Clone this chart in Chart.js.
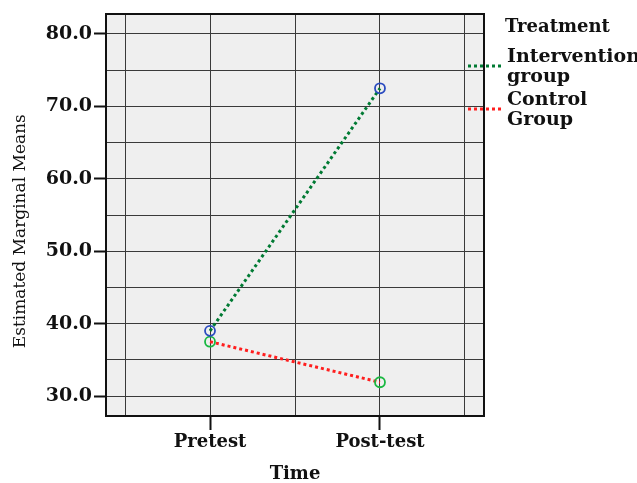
<!DOCTYPE html>
<html>
<head>
<meta charset="utf-8">
<script src="https://cdn.jsdelivr.net/npm/chart.js@4"></script>
<style>
  html, body { margin: 0; padding: 0; background: #fff; }
  canvas { display: block; }
</style>
</head>
<body>
<canvas id="profileChart" width="637" height="483"></canvas>
<script>
// values
const timeLabels = ['Pretest', 'Post-test'];
const groupNames = [['Intervention', 'group'], ['Control', 'Group']];
const interventionMeans = [39.0, 72.5];
const controlMeans = [37.5, 31.9];
const yTickValues = [30, 35, 40, 45, 50, 55, 60, 65, 70, 75, 80];
const xTickValues = [0.5, 1, 1.5, 2, 2.5];

const serif = "'DejaVu Serif', 'Liberation Serif', serif";

// plot background + full frame (SPSS style box)
const frame = {
    id: 'frame',
    beforeDraw(chart) {
        const a = chart.chartArea;
        const c = chart.ctx;
        c.save();
        c.fillStyle = '#efefef';
        c.fillRect(a.left, a.top, a.right - a.left, a.bottom - a.top);
        c.restore();
    },
    afterDatasetsDraw(chart) {
        const a = chart.chartArea;
        const c = chart.ctx;
        c.save();
        c.strokeStyle = '#111';
        c.lineWidth = 2;
        c.strokeRect(a.left, a.top, a.right - a.left, a.bottom - a.top);
        c.restore();
    }
};

// legend on the right, title + dotted swatches + wrapped names
const sideLegend = {
    id: 'sideLegend',
    afterDraw(chart) {
        const c = chart.ctx;
        c.save();
        c.fillStyle = '#111';
        c.textBaseline = 'middle';
        c.font = '600 18px ' + serif;
        c.fillText('Treatment', 505, 27);
        const rows = [[57, 77, 66], [100, 120, 109]];
        chart.data.datasets.forEach((ds, i) => {
            const r = rows[i];
            c.font = '600 19px ' + serif;
            c.fillStyle = '#111';
            c.fillText(groupNames[i][0], 507, r[0]);
            c.fillText(groupNames[i][1], 507, r[1]);
            c.strokeStyle = ds.borderColor;
            c.lineWidth = 3;
            c.setLineDash([3, 3]);
            c.beginPath();
            c.moveTo(468, r[2]);
            c.lineTo(502, r[2]);
            c.stroke();
        });
        c.restore();
    }
};

function initChart() {
    const ctx = document.getElementById('profileChart');

    new Chart(ctx, {
        type: 'scatter',
        data: {
            datasets: [{
                label: groupNames[0].join(' '),
                data: interventionMeans.map((v, i) => ({ x: i + 1, y: v })),
                showLine: true,
                borderColor: '#007a33',
                borderWidth: 3,
                borderDash: [3, 3],
                pointStyle: 'circle',
                pointRadius: 5,
                pointBorderWidth: 1.8,
                pointBorderColor: '#2a4bc0',
                pointBackgroundColor: 'rgba(0,0,0,0)'
            }, {
                label: groupNames[1].join(' '),
                data: controlMeans.map((v, i) => ({ x: i + 1, y: v })),
                showLine: true,
                borderColor: '#ff1e1e',
                borderWidth: 3,
                borderDash: [3, 3],
                pointStyle: 'circle',
                pointRadius: 5,
                pointBorderWidth: 1.8,
                pointBorderColor: '#18b840',
                pointBackgroundColor: 'rgba(0,0,0,0)'
            }]
        },
        options: {
            responsive: false,
            animation: false,
            devicePixelRatio: 1,
            layout: { padding: { left: 0, top: 14, right: 153, bottom: 0 } },
            plugins: {
                legend: { display: false },
                tooltip: { enabled: false }
            },
            scales: {
                x: {
                    type: 'linear',
                    min: 0.388,
                    max: 2.612,
                    afterBuildTicks: s => { s.ticks = xTickValues.map(v => ({ value: v })); },
                    afterFit: s => { s.height = 67; },
                    border: { display: false },
                    grid: {
                        color: '#3a3a3a',
                        lineWidth: 1,
                        tickLength: 14,
                        tickWidth: 2,
                        tickColor: c => Number.isInteger(c.tick.value) ? '#111' : 'rgba(0,0,0,0)'
                    },
                    ticks: {
                        autoSkip: false,
                        maxRotation: 0,
                        padding: 2,
                        color: '#111',
                        font: { family: serif, size: 18, weight: 'bold' },
                        callback: v => Number.isInteger(v) ? timeLabels[v - 1] : ''
                    },
                    title: {
                        display: true,
                        text: 'Time',
                        color: '#111',
                        padding: 0,
                        font: { family: serif, size: 18, weight: 'bold', lineHeight: 1 }
                    }
                },
                y: {
                    min: 27.24,
                    max: 82.76,
                    afterBuildTicks: s => { s.ticks = yTickValues.map(v => ({ value: v })); },
                    afterFit: s => { s.width = 106; },
                    border: { display: false },
                    grid: {
                        color: '#3a3a3a',
                        lineWidth: 1,
                        tickLength: 12,
                        tickWidth: 2,
                        tickColor: c => c.tick.value % 10 === 0 ? '#111' : 'rgba(0,0,0,0)'
                    },
                    ticks: {
                        autoSkip: false,
                        padding: 2,
                        color: '#111',
                        font: { family: serif, size: 19, weight: 'bold' },
                        callback: v => v % 10 === 0 ? v.toFixed(1) : ''
                    },
                    title: {
                        display: true,
                        // trailing nbsp nudge the rotated title a bit lower, like the original
                        text: 'Estimated Marginal Means\u00a0\u00a0\u00a0\u00a0\u00a0\u00a0',
                        color: '#111',
                        padding: { top: 10, bottom: 0 },
                        font: { family: serif, size: 17, lineHeight: 1.2 }
                    }
                }
            }
        },
        plugins: [frame, sideLegend]
    });
}

initChart();
</script>
</body>
</html>
